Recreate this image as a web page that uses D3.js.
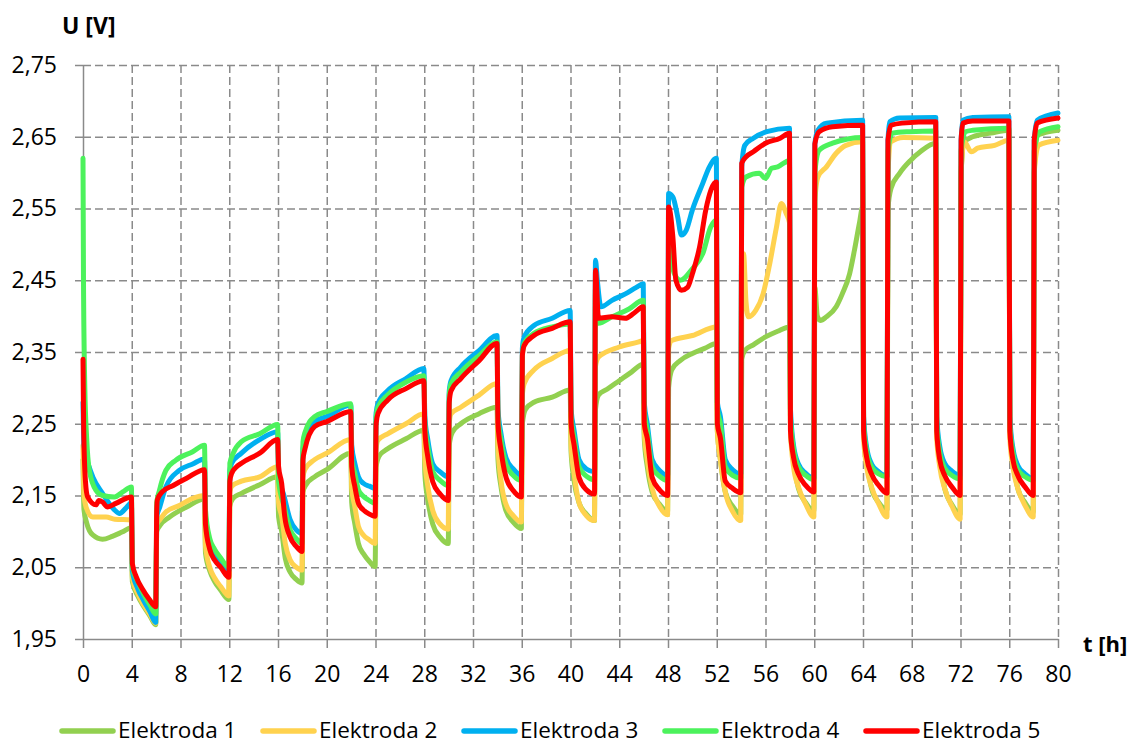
<!DOCTYPE html>
<html>
  <head>
    <meta charset="utf-8">
    <style>
      body { margin: 0; background: #fff; font-family: "Open Sans", sans-serif; }
      .grid line { stroke: #8a8a8a; stroke-width: 1.5; stroke-dasharray: 8 4; }
      .grid path { display: none; }
      .axis path, .axis line { stroke: #8a8a8a; stroke-width: 1.5; }
      .axis text { font-family: "Open Sans", sans-serif; font-size: 23px; fill: #000; }
    </style>
  </head>
  <body>
    <div id="chart"></div>
    <script src="https://d3js.org/d3.v7.min.js"></script>
    <script>

      var names = ["Elektroda 1", "Elektroda 2", "Elektroda 3", "Elektroda 4", "Elektroda 5"];
      var colors = ["#92D050", "#FFD24F", "#00B0F0", "#4CF25C", "#FF0000"];
      var xTicks = [0, 4, 8, 12, 16, 20, 24, 28, 32, 36, 40, 44, 48, 52, 56, 60, 64, 68, 72, 76, 80];
      var yTicks = [1.95, 2.05, 2.15, 2.25, 2.35, 2.45, 2.55, 2.65, 2.75];

      // [t (h), U (V)]
      var e1 = [[0,2.20],[0.08,2.13],[0.3,2.112],[0.8,2.095],[1.6,2.089],[2.4,2.093],[3.2,2.099],[3.97,2.105],
        [4.05,2.03],[4.5,2.01],[5,1.995],[5.5,1.982],[5.97,1.970],
        [6.05,2.10],[6.3,2.108],[7.1,2.12],[8.5,2.134],[9.97,2.145],
        [10.05,2.07],[10.4,2.045],[10.8,2.03],[11.3,2.018],[11.97,2.005],
        [12.05,2.135],[12.3,2.146],[13,2.153],[14.5,2.165],[15.97,2.176],
        [16.05,2.12],[16.3,2.10],[16.6,2.062],[17,2.043],[17.5,2.033],[17.97,2.028],
        [18.05,2.155],[18.3,2.165],[19,2.176],[20,2.186],[21.97,2.209],
        [22.05,2.14],[22.3,2.111],[22.6,2.083],[23,2.069],[23.5,2.058],[23.97,2.051],
        [24.05,2.19],[24.3,2.205],[25,2.215],[26.5,2.229],[27.97,2.241],
        [28.05,2.18],[28.3,2.143],[28.7,2.11],[29.3,2.092],[29.97,2.083],
        [30.05,2.22],[30.3,2.238],[31,2.25],[32.5,2.264],[33.97,2.273],
        [34.05,2.2],[34.3,2.162],[34.7,2.129],[35.3,2.113],[35.97,2.104],
        [36.05,2.25],[36.3,2.27],[37,2.28],[38.5,2.287],[39.97,2.297],
        [40.05,2.21],[40.3,2.17],[40.7,2.14],[41.3,2.124],[41.97,2.115],
        [42.05,2.27],[42.3,2.29],[43,2.298],[44,2.31],[45,2.322],[45.97,2.333],
        [46.05,2.23],[46.3,2.19],[46.7,2.155],[47.3,2.138],[47.97,2.128],
        [48.05,2.30],[48.3,2.325],[49,2.338],[50,2.348],[51,2.355],[51.97,2.362],
        [52.05,2.24],[52.3,2.2],[52.7,2.155],[53.3,2.135],[53.97,2.124],
        [54.05,2.34],[54.3,2.352],[55,2.36],[56,2.371],[57,2.379],[57.97,2.385],
        [58.05,2.24],[58.3,2.2],[58.7,2.16],[59.3,2.14],[59.97,2.128],
        [60.05,2.44],[60.25,2.40],[60.5,2.394],[61,2.399],[61.8,2.413],[62.3,2.431],[62.9,2.459],[63.3,2.492],[63.7,2.529],[63.97,2.552],
        [64.05,2.24],[64.3,2.2],[64.7,2.16],[65.3,2.14],[65.97,2.13],
        [66.05,2.55],[66.3,2.578],[67,2.599],[67.9,2.617],[68.7,2.629],[69.97,2.641],
        [70.05,2.24],[70.3,2.2],[70.7,2.16],[71.3,2.137],[71.97,2.124],
        [72.05,2.60],[72.3,2.643],[73,2.65],[74.5,2.655],[75.97,2.659],
        [76.05,2.24],[76.3,2.2],[76.7,2.16],[77.3,2.14],[77.97,2.127],
        [78.05,2.60],[78.3,2.652],[79,2.656],[80,2.659]];

      var e2 = [[0,2.22],[0.08,2.15],[0.25,2.134],[0.8,2.12],[1.9,2.12],[2.6,2.117],[3.97,2.116],
        [4.05,2.035],[4.5,2.013],[5,1.997],[5.5,1.984],[5.97,1.972],
        [6.05,2.11],[6.3,2.116],[6.8,2.127],[7.9,2.136],[9,2.146],[9.97,2.15],
        [10.05,2.08],[10.4,2.05],[10.8,2.035],[11.3,2.023],[11.97,2.01],
        [12.05,2.155],[12.2,2.163],[13,2.17],[14.5,2.176],[15.97,2.19],
        [16.05,2.14],[16.3,2.121],[16.6,2.083],[17,2.06],[17.5,2.05],[17.97,2.046],
        [18.05,2.175],[18.2,2.186],[19,2.2],[20,2.209],[21.97,2.228],
        [22.05,2.16],[22.3,2.135],[22.6,2.107],[23,2.095],[23.5,2.088],[23.97,2.083],
        [24.05,2.215],[24.2,2.227],[25,2.236],[26.5,2.25],[27.97,2.264],
        [28.05,2.2],[28.3,2.162],[28.7,2.129],[29.3,2.11],[29.97,2.103],
        [30.05,2.25],[30.2,2.264],[31,2.273],[32.5,2.29],[33.97,2.306],
        [34.05,2.22],[34.3,2.171],[34.7,2.138],[35.3,2.122],[35.97,2.113],
        [36.05,2.29],[36.2,2.306],[37,2.325],[38.5,2.341],[39.97,2.352],
        [40.05,2.22],[40.3,2.18],[40.7,2.14],[41.3,2.122],[41.97,2.115],
        [42.05,2.33],[42.3,2.343],[44,2.357],[45.6,2.364],[45.97,2.366],
        [46.05,2.24],[46.3,2.2],[46.7,2.16],[47.3,2.135],[47.97,2.123],
        [48.05,2.355],[48.3,2.366],[50,2.373],[51.97,2.385],
        [52.05,2.24],[52.3,2.2],[52.7,2.155],[53.3,2.128],[53.97,2.115],
        [54.05,2.40],[54.2,2.487],[54.4,2.42],[54.6,2.399],[55.2,2.408],[55.8,2.431],[56.3,2.469],[56.9,2.524],[57.3,2.557],[57.7,2.543],[57.97,2.53],
        [58.05,2.24],[58.3,2.19],[58.7,2.162],[59.3,2.138],[59.97,2.12],
        [60.05,2.56],[60.3,2.594],[61,2.608],[61.8,2.627],[62.6,2.638],[63.97,2.643],
        [64.05,2.23],[64.3,2.19],[64.7,2.162],[65.3,2.138],[65.97,2.12],
        [66.05,2.6],[66.3,2.643],[67.3,2.649],[69.97,2.648],
        [70.05,2.23],[70.3,2.19],[70.7,2.16],[71.3,2.135],[71.97,2.117],
        [72.05,2.6],[72.3,2.643],[72.9,2.629],[73.4,2.634],[74.8,2.638],[75.97,2.645],
        [76.05,2.23],[76.3,2.19],[76.7,2.16],[77.3,2.136],[77.97,2.12],
        [78.05,2.6],[78.4,2.638],[80,2.645]];

      var e3 = [[0,2.28],[0.08,2.22],[0.5,2.19],[0.8,2.176],[1.6,2.153],[2.58,2.13],[3,2.125],[3.5,2.132],[3.97,2.14],
        [4.05,2.045],[4.5,2.02],[5,2.003],[5.5,1.988],[5.97,1.973],
        [6.05,2.12],[6.3,2.134],[6.8,2.162],[7.9,2.185],[9,2.194],[9.97,2.201],
        [10.05,2.12],[10.4,2.085],[10.8,2.07],[11.3,2.058],[11.97,2.045],
        [12.05,2.185],[12.2,2.195],[13,2.209],[14.5,2.228],[15.97,2.239],
        [16.05,2.18],[16.5,2.149],[17,2.116],[17.5,2.102],[17.97,2.097],
        [18.05,2.215],[18.2,2.228],[19,2.253],[20,2.26],[21.97,2.276],
        [22.05,2.22],[22.3,2.195],[22.6,2.176],[23,2.167],[23.5,2.163],[23.97,2.16],
        [24.05,2.265],[24.2,2.278],[25,2.296],[26.5,2.313],[27.97,2.327],
        [28.05,2.26],[28.3,2.227],[28.7,2.194],[29.3,2.183],[29.97,2.176],
        [30.05,2.295],[30.2,2.31],[31,2.329],[32.5,2.352],[33.97,2.373],
        [34.05,2.27],[34.3,2.236],[34.7,2.203],[35.3,2.187],[35.97,2.178],
        [36.05,2.355],[36.2,2.371],[37,2.387],[38.5,2.397],[39.97,2.408],
        [40.05,2.27],[40.3,2.24],[40.7,2.2],[41.3,2.187],[41.97,2.183],
        [42.05,2.478],[42.2,2.45],[42.5,2.413],[43.4,2.422],[44.5,2.431],[45.4,2.44],[45.97,2.445],
        [46.05,2.28],[46.3,2.25],[46.7,2.2],[47.3,2.185],[47.97,2.178],
        [48.05,2.571],[48.4,2.566],[48.8,2.538],[49.1,2.513],[49.5,2.52],[50,2.548],[50.85,2.585],[51.4,2.608],[51.97,2.62],
        [52.05,2.28],[52.3,2.26],[52.7,2.2],[53.3,2.186],[53.97,2.18],
        [54.05,2.608],[54.3,2.638],[55,2.648],[56.1,2.657],[57.97,2.662],
        [58.05,2.27],[58.3,2.22],[58.7,2.194],[59.3,2.181],[59.97,2.174],
        [60.05,2.64],[60.3,2.659],[61,2.669],[63.97,2.673],
        [64.05,2.26],[64.3,2.217],[64.7,2.194],[65.3,2.183],[65.97,2.177],
        [66.05,2.645],[66.2,2.671],[67,2.676],[69.97,2.677],
        [70.05,2.26],[70.3,2.218],[70.7,2.195],[71.3,2.184],[71.97,2.178],
        [72.05,2.645],[72.2,2.673],[73,2.677],[75.97,2.678],
        [76.05,2.26],[76.3,2.216],[76.7,2.192],[77.3,2.18],[77.97,2.173],
        [78.05,2.645],[78.3,2.673],[80,2.683]];

      var e4 = [[0,2.62],[0.04,2.45],[0.15,2.3],[0.3,2.23],[0.52,2.185],[1.07,2.157],[1.6,2.15],[2.58,2.148],[3.26,2.155],[3.97,2.162],
        [4.05,2.05],[4.5,2.03],[5,2.012],[5.5,1.997],[5.97,1.985],
        [6.05,2.14],[6.27,2.157],[6.8,2.185],[7.6,2.199],[9,2.211],[9.97,2.22],
        [10.05,2.13],[10.4,2.09],[10.8,2.075],[11.3,2.063],[11.97,2.05],
        [12.05,2.195],[12.3,2.208],[13,2.225],[14.5,2.236],[15.97,2.249],
        [16.05,2.17],[16.5,2.135],[17,2.102],[17.5,2.09],[17.97,2.083],
        [18.05,2.225],[18.2,2.237],[19,2.26],[20,2.267],[21.97,2.278],
        [22.05,2.2],[22.3,2.181],[22.6,2.158],[23,2.149],[23.5,2.143],[23.97,2.139],
        [24.05,2.26],[24.2,2.273],[25,2.29],[26.5,2.308],[27.97,2.317],
        [28.05,2.25],[28.3,2.217],[28.7,2.183],[29.3,2.171],[29.97,2.164],
        [30.05,2.29],[30.2,2.306],[31,2.322],[32.5,2.345],[33.97,2.364],
        [34.05,2.26],[34.3,2.227],[34.7,2.194],[35.3,2.178],[35.97,2.171],
        [36.05,2.345],[36.2,2.362],[37,2.376],[38.5,2.385],[39.97,2.389],
        [40.05,2.26],[40.3,2.23],[40.7,2.19],[41.3,2.177],[41.97,2.172],
        [42.05,2.44],[42.3,2.39],[43.4,2.399],[44.8,2.41],[45.97,2.422],
        [46.05,2.27],[46.3,2.24],[46.7,2.19],[47.3,2.177],[47.97,2.171],
        [48.05,2.50],[48.5,2.46],[49,2.45],[50,2.466],[50.85,2.487],[51.5,2.524],[51.97,2.534],
        [52.05,2.27],[52.3,2.25],[52.7,2.19],[53.3,2.178],[53.97,2.174],
        [54.05,2.58],[54.4,2.594],[55.5,2.599],[56,2.592],[56.5,2.606],[57,2.608],[57.97,2.617],
        [58.05,2.26],[58.3,2.215],[58.7,2.19],[59.3,2.178],[59.97,2.172],
        [60.05,2.6],[60.4,2.631],[61.5,2.641],[63.97,2.649],
        [64.05,2.25],[64.3,2.212],[64.7,2.19],[65.3,2.18],[65.97,2.176],
        [66.05,2.63],[66.4,2.655],[67.8,2.657],[69.97,2.658],
        [70.05,2.25],[70.3,2.21],[70.7,2.188],[71.3,2.178],[71.97,2.173],
        [72.05,2.63],[72.4,2.657],[73,2.659],[75.97,2.662],
        [76.05,2.25],[76.3,2.21],[76.7,2.186],[77.3,2.176],[77.97,2.171],
        [78.05,2.63],[78.5,2.657],[80,2.664]];

      var e5 = [[0,2.34],[0.05,2.25],[0.2,2.17],[0.38,2.148],[1.07,2.137],[1.3,2.143],[1.6,2.141],[2.0,2.134],[2.7,2.139],[3.97,2.148],
        [4.05,2.055],[4.36,2.037],[4.9,2.019],[5.45,2.005],[5.97,1.995],
        [6.05,2.13],[6.1,2.144],[6.5,2.155],[7.4,2.164],[8.5,2.174],[9.97,2.186],
        [10.05,2.11],[10.4,2.075],[10.8,2.06],[11.3,2.05],[11.97,2.036],
        [12.05,2.17],[12.2,2.181],[12.6,2.19],[13,2.195],[14.5,2.209],[15.97,2.228],
        [16.05,2.19],[16.3,2.167],[16.55,2.121],[16.97,2.093],[17.5,2.079],[17.97,2.072],
        [18.05,2.2],[18.2,2.214],[19,2.246],[20,2.253],[21.97,2.267],
        [22.05,2.19],[22.3,2.163],[22.6,2.139],[23,2.13],[23.5,2.124],[23.97,2.121],
        [24.05,2.25],[24.2,2.264],[25,2.283],[26.5,2.299],[27.97,2.31],
        [28.05,2.24],[28.3,2.203],[28.7,2.169],[29.3,2.152],[29.97,2.143],
        [30.05,2.28],[30.2,2.296],[31,2.313],[32.5,2.338],[33.97,2.362],
        [34.05,2.25],[34.3,2.213],[34.7,2.176],[35.3,2.157],[35.97,2.148],
        [36.05,2.345],[36.2,2.359],[37,2.373],[38.5,2.383],[39.97,2.392],
        [40.05,2.25],[40.3,2.22],[40.7,2.175],[41.3,2.158],[41.97,2.152],
        [42.05,2.464],[42.3,2.397],[43.4,2.399],[44.5,2.397],[45.2,2.404],[45.97,2.413],
        [46.05,2.25],[46.3,2.23],[46.7,2.175],[47.3,2.158],[47.97,2.15],
        [48.05,2.552],[48.4,2.51],[48.65,2.45],[49.1,2.436],[49.6,2.44],[50,2.459],[50.6,2.497],[51.1,2.548],[51.97,2.587],
        [52.05,2.25],[52.3,2.23],[52.7,2.17],[53.3,2.16],[53.97,2.154],
        [54.05,2.613],[54.4,2.622],[55,2.629],[56,2.641],[57.2,2.648],[57.97,2.655],
        [58.05,2.24],[58.3,2.203],[58.7,2.18],[59.3,2.164],[59.97,2.155],
        [60.05,2.64],[60.4,2.657],[61.5,2.664],[63.97,2.666],
        [64.05,2.24],[64.3,2.203],[64.7,2.18],[65.3,2.164],[65.97,2.153],
        [66.05,2.645],[66.3,2.666],[67.2,2.669],[69.97,2.671],
        [70.05,2.24],[70.3,2.2],[70.7,2.178],[71.3,2.162],[71.97,2.15],
        [72.05,2.645],[72.2,2.669],[73,2.672],[75.97,2.672],
        [76.05,2.24],[76.3,2.2],[76.7,2.178],[77.3,2.162],[77.97,2.15],
        [78.05,2.645],[78.3,2.669],[80,2.676]];

      var series = [e1, e2, e3, e4, e5];

      var W = 1131, H = 745;
      var margin = {top: 65, right: 73, bottom: 106, left: 83},
        width = W - margin.left - margin.right,
        height = H - margin.top - margin.bottom;

      var svg = d3.select("#chart")
        .append("svg")
          .attr("width", W)
          .attr("height", H)
        .append("g")
          .attr("transform", "translate(" + margin.left + "," + margin.top + ")");

      var x = d3.scaleLinear().domain([0, 80]).range([0, width]);
      var y = d3.scaleLinear().domain([1.95, 2.75]).range([height, 0]);

      // dashed grid
      svg.append("g")
        .attr("class", "grid")
        .call(d3.axisLeft(y).tickValues(yTicks.slice(1)).tickSize(-width).tickFormat(""));
      svg.append("g")
        .attr("class", "grid")
        .call(d3.axisBottom(x).tickValues(xTicks.slice(1)).tickSize(height).tickFormat(""));

      // axes
      svg.append("g")
        .attr("class", "axis")
        .call(d3.axisLeft(y)
          .tickValues(yTicks)
          .tickSize(8)
          .tickSizeOuter(0)
          .tickPadding(18)
          .tickFormat(function (d) { return d.toFixed(2).replace(".", ","); }));

      svg.append("g")
        .attr("class", "axis")
        .attr("transform", "translate(0," + height + ")")
        .call(d3.axisBottom(x)
          .tickValues(xTicks)
          .tickSize(9)
          .tickSizeOuter(0)
          .tickPadding(18));

      // series
      var line = d3.line()
        .curve(d3.curveMonotoneX)
        .x(function (d) { return x(d[0]); })
        .y(function (d) { return y(d[1]); });

      svg.selectAll(".series")
        .data(series)
        .enter()
        .append("path")
          .attr("class", "series")
          .attr("d", line)
          .attr("fill", "none")
          .attr("stroke", function (d, i) { return colors[i]; })
          .attr("stroke-width", 5)
          .attr("stroke-linejoin", "round")
          .attr("stroke-linecap", "round");

      // axis titles
      svg.append("text")
        .attr("x", -21)
        .attr("y", -31)
        .style("font-family", "Open Sans")
        .style("font-weight", "bold")
        .style("font-size", "23px")
        .text("U [V]");

      svg.append("text")
        .attr("x", width + 25)
        .attr("y", height + 13)
        .style("font-family", "Open Sans")
        .style("font-weight", "bold")
        .style("font-size", "22px")
        .text("t [h]");

      // legend
      var legend = d3.select("svg").append("g")
        .attr("transform", "translate(62,731)");

      var item = legend.selectAll(".item")
        .data(names)
        .enter()
        .append("g")
          .attr("class", "item")
          .attr("transform", function (d, i) { return "translate(" + (i * 201) + ",0)"; });

      item.append("line")
        .attr("x1", 0).attr("x2", 51)
        .attr("y1", 0).attr("y2", 0)
        .attr("stroke", function (d, i) { return colors[i]; })
        .attr("stroke-width", 5.5)
        .attr("stroke-linecap", "round");

      item.append("text")
        .attr("x", 56)
        .attr("y", 7)
        .style("font-family", "Open Sans")
        .style("font-size", "22.5px")
        .text(function (d) { return d; });

    </script>
  </body>
</html>
